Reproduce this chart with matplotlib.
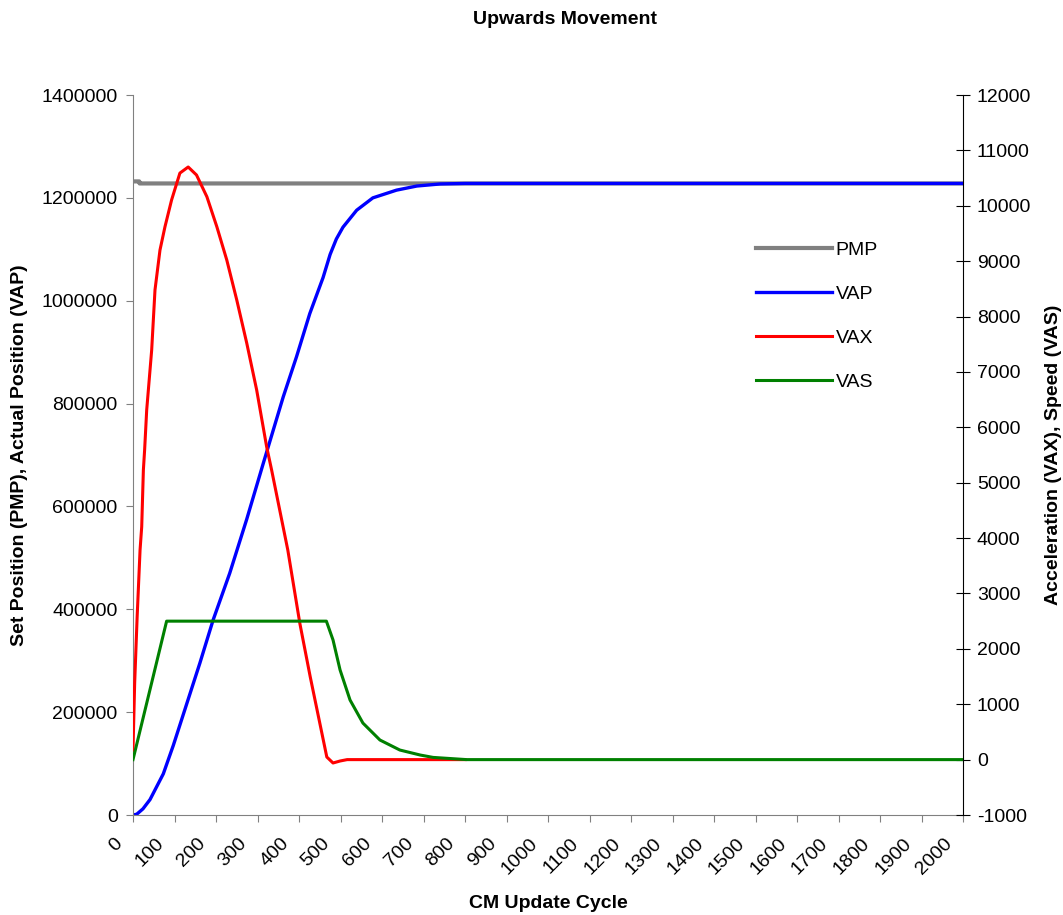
import numpy as np
import matplotlib.pyplot as plt
import matplotlib.transforms as mtransforms
from matplotlib.ticker import MultipleLocator

plt.rcParams['font.family'] = ['Liberation Sans', 'DejaVu Sans']
plt.rcParams['axes.unicode_minus'] = False

# x axis ticks
cycle_ticks = list(range(0, 2001, 100))

# PMP - set position (left axis)
pmp_x = [0, 15, 16, 2000]
pmp_y = [1232000, 1232000, 1228000, 1228000]

# VAP - actual position (left axis)
vap_x = [0, 9, 24, 41, 73, 97, 129, 161, 193, 233, 274, 314, 362, 394, 426,
         458, 475, 490, 506, 539, 578, 635, 684, 740, 800, 2000]
vap_y = [0, 1500, 12000, 30000, 80000, 135000, 215000, 295000, 379000,
         470000, 575000, 684000, 813000, 891000, 975000, 1045000, 1090000,
         1120000, 1143000, 1176000, 1200000, 1215000, 1223000, 1227000,
         1228000, 1228000]

# VAX - acceleration (right axis)
vax_x = [0, 4, 10, 17, 21, 25, 28, 33, 45, 53, 65, 77, 93, 113, 133, 153,
         178, 202, 226, 250, 274, 298, 322, 334, 373, 402, 427, 467, 482,
         499, 516, 800]
vax_y = [170, 1380, 2580, 3785, 4205, 5230, 5590, 6312, 7395, 8480, 9200,
         9620, 10105, 10590, 10700, 10556, 10164, 9622, 9020, 8300, 7523,
         6674, 5650, 5230, 3785, 2461, 1497, 47, -61, -25, 0, 0]

# VAS - speed (right axis)
vas_x = [0, 81, 466, 482, 499, 523, 554, 595, 643, 692, 723, 804, 2000]
vas_y = [0, 2500, 2500, 2160, 1618, 1076, 660, 354, 173, 83, 40, 0, 0]

fig = plt.figure(figsize=(10.63, 9.15), dpi=100)
ax = fig.add_axes([133/1063, 100/915, 830/1063, 720/915])
ax2 = ax.twinx()

l1, = ax.plot(pmp_x, pmp_y, color='#808080', lw=3.0, label='PMP')
l2, = ax.plot(vap_x, vap_y, color='#0000ff', lw=2.4, label='VAP')
l3, = ax2.plot(vax_x, vax_y, color='#ff0000', lw=2.2, label='VAX')
l4, = ax2.plot(vas_x, vas_y, color='#008000', lw=2.2, label='VAS')

ax.set_xlim(0, 2000)
ax.set_ylim(0, 1400000)
ax2.set_ylim(-1000, 12000)
ax.yaxis.set_major_locator(MultipleLocator(200000))
ax.ticklabel_format(axis='y', style='plain', useOffset=False)
ax2.yaxis.set_major_locator(MultipleLocator(1000))

# rotated x tick labels, placed a bit left of their ticks like Excel does
ax.set_xticks(cycle_ticks)
ax.set_xticklabels([])
shift = mtransforms.ScaledTranslation(-19/100, -20/100, fig.dpi_scale_trans)
for t in cycle_ticks:
    ax.text(t, 0, str(t), transform=ax.get_xaxis_transform() + shift,
            rotation=45, ha='right', va='top', rotation_mode='anchor',
            fontsize=14)

for a in (ax, ax2):
    a.spines['top'].set_visible(False)
ax.spines['left'].set_color('#808080')
ax.spines['bottom'].set_color('#808080')
ax.spines['right'].set_visible(False)
ax2.spines['left'].set_visible(False)
ax2.spines['bottom'].set_visible(False)
ax2.spines['right'].set_color('black')

ax.tick_params(axis='y', direction='out', length=5, color='#808080',
               labelsize=14, pad=6)
ax.tick_params(axis='x', direction='out', length=5, color='#808080',
               labelsize=14, pad=10)
ax2.tick_params(axis='y', direction='inout', length=10, color='black',
                labelsize=14, pad=5)

ax.set_xlabel('CM Update Cycle', fontsize=14, fontweight='bold', labelpad=0)
ax.xaxis.set_label_coords(0.5, -(903 - 815) / 720)
ax.xaxis.label.set_va('center')
ax.set_ylabel('Set Position (PMP), Actual Position (VAP)', fontsize=14,
              fontweight='bold', labelpad=10)
ax2.set_ylabel('Acceleration (VAX), Speed (VAS)', fontsize=14,
               fontweight='bold', labelpad=10)

fig.text(565/1063, 1 - 19/915, 'Upwards Movement', ha='center', va='center',
         fontsize=14, fontweight='bold')

fig.legend([l1, l2, l3, l4], ['PMP', 'VAP', 'VAX', 'VAS'], loc='upper left',
           bbox_to_anchor=(756/1063, 1 - 241/915), frameon=False, fontsize=14,
           handlelength=3.9, handletextpad=0.2, labelspacing=1.36,
           borderpad=0, borderaxespad=0)

fig.savefig('out.png', dpi=100)
